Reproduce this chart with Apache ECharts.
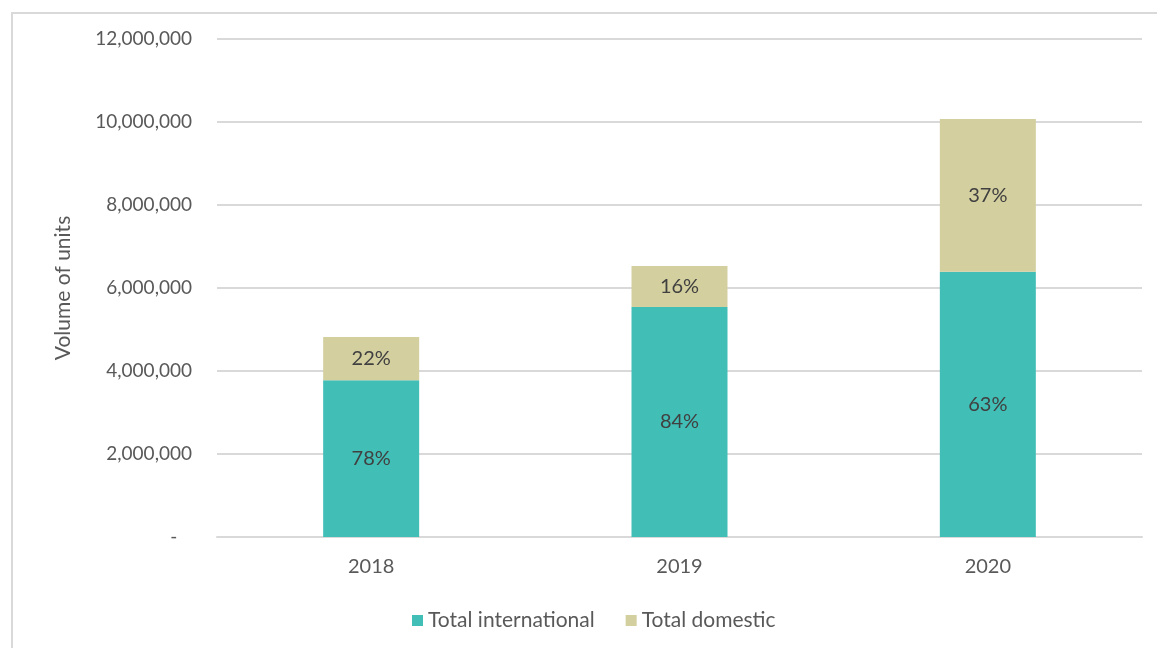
<!DOCTYPE html>
<html>
<head>
<meta charset="utf-8">
<script src="https://cdn.jsdelivr.net/npm/echarts@6/dist/echarts.min.js"></script>
<style>
  html, body { margin: 0; padding: 0; background: #fff; }
  #frame {
    position: absolute; left: 11px; top: 12px; width: 1160px; height: 660px;
    border: 2px solid #d9d9d9; box-sizing: border-box;
  }
  #myChart { position: absolute; left: 0; top: 0; width: 1157px; height: 648px; }
</style>
</head>
<body>
<div id="frame"></div>
<div id="myChart"></div>
<script>
// chart data
var years = ["2018", "2019", "2020"];
var international = [3780000, 5540000, 6390000];
var domestic = [1040000, 990000, 3680000];
var intlLabels = ["78%", "84%", "63%"];
var domLabels = ["22%", "16%", "37%"];
var yTicks = [0, 2000000, 4000000, 6000000, 8000000, 10000000, 12000000];

var fontFam = "Lato, 'Open Sans', sans-serif";
var textCol = "#595959";

var myChart = echarts.init(document.getElementById("myChart"));
myChart.setOption({
  animation: false,
  textStyle: { fontFamily: fontFam },
  grid: { left: 217, right: 15, top: 39, bottom: 111 },
  legend: {
    top: 605,
    left: 407,
    itemWidth: 11,
    itemHeight: 11,
    itemGap: 31,
    icon: "rect",
    textStyle: { color: textCol, fontSize: 21, fontFamily: fontFam },
    data: ["Total international", "Total domestic"]
  },
  xAxis: {
    type: "category",
    data: years,
    axisLine: { lineStyle: { color: "#d9d9d9", width: 2 } },
    axisTick: { show: false },
    axisLabel: { color: textCol, fontSize: 20, margin: 20 }
  },
  yAxis: {
    type: "value",
    min: yTicks[0],
    max: yTicks[yTicks.length - 1],
    interval: 2000000,
    name: "Volume of units",
    nameLocation: "middle",
    nameGap: 143,
    nameTextStyle: { color: textCol, fontSize: 21 },
    axisLine: { show: false },
    axisTick: { show: false },
    splitLine: { lineStyle: { color: "#d9d9d9", width: 2 } },
    axisLabel: {
      color: textCol, fontSize: 19, margin: 25,
      formatter: function (v) { return v === 0 ? "-   " : v.toLocaleString("en-US"); }
    }
  },
  series: [
    {
      name: "Total international",
      type: "bar",
      stack: "total",
      barWidth: 96,
      itemStyle: { color: "#41beb6" },
      label: {
        show: true, position: "inside", color: "#404040", fontSize: 20,
        formatter: function (p) { return intlLabels[p.dataIndex]; }
      },
      data: international
    },
    {
      name: "Total domestic",
      type: "bar",
      stack: "total",
      barWidth: 96,
      itemStyle: { color: "#d3cf9f" },
      label: {
        show: true, position: "inside", color: "#404040", fontSize: 20,
        formatter: function (p) { return domLabels[p.dataIndex]; }
      },
      data: domestic
    }
  ]
});
</script>
</body>
</html>
